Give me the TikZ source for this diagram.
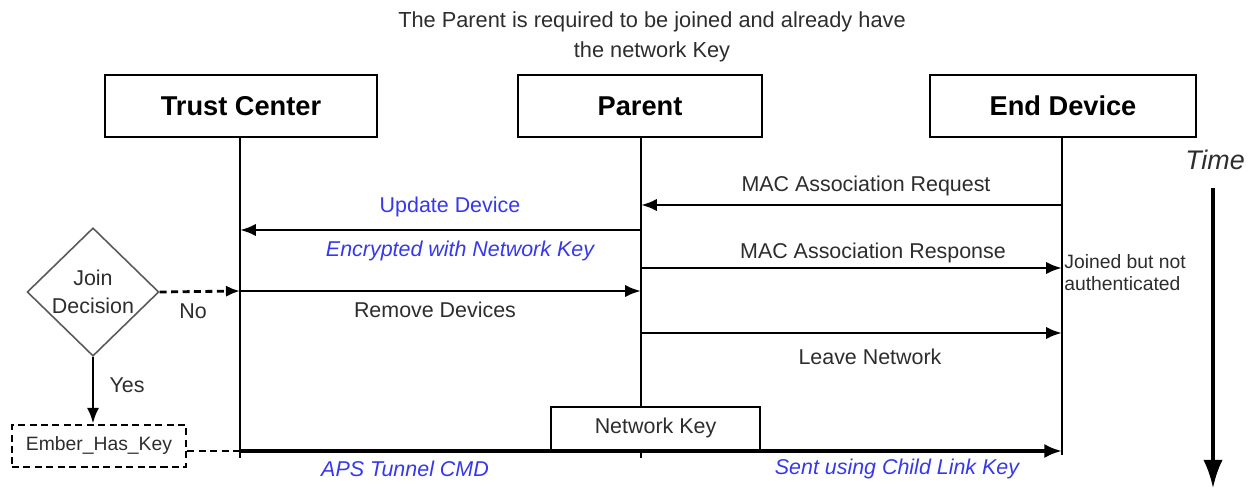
\documentclass[tikz,border=0pt]{standalone}
\usepackage{fontspec}
\setmainfont{Liberation Sans}
\usetikzlibrary{arrows.meta,shapes.geometric}
\definecolor{msgblue}{RGB}{55,55,235}
\definecolor{txtgray}{RGB}{45,45,45}
\tikzset{
  actor/.style={draw,line width=1.4pt,fill=white,minimum width=#1,minimum height=35.3pt,inner sep=0pt,font=\fontsize{15.5}{18}\selectfont\bfseries},
  life/.style={line width=1.4pt},
  msg/.style={line width=1.6pt,-{Latex[length=9pt,width=7pt]}},
  lbl/.style={font=\fontsize{12.2}{14}\selectfont,text=txtgray,inner sep=0pt},
  blbl/.style={font=\fontsize{12.2}{14}\selectfont,text=msgblue,inner sep=0pt},
  ilbl/.style={font=\fontsize{12.2}{14}\selectfont\itshape,text=msgblue,inner sep=0pt},
  dashline/.style={dash pattern=on 4pt off 2.5pt},
}
\begin{document}
\begin{tikzpicture}[x=0.02cm,y=-0.02cm]
\useasboundingbox (0,0) rectangle (1254,489);
% title
\node[lbl,align=center,font=\fontsize{12.4}{17}\selectfont] (title) at (652,37) {The Parent is required to be joined and already have\\the network Key};
% actors
\node[actor=154.8pt] (tc) at (241,106) {Trust Center};
\node[actor=138.8pt] (par) at (640,106) {Parent};
\node[actor=151.4pt] (ed) at (1063,106) {End Device};
% lifeline ends
\coordinate (tcE) at (240,458);
\coordinate (pE) at (641,458);
\coordinate (edE) at (1062,455);
\draw[life] (tc.south -| tcE) -- (tcE);
\draw[life] (par.south -| pE) -- (pE);
\draw[life] (ed.south -| edE) -- (edE);
% message anchor points
\coordinate (ed1) at (1062,205); \coordinate (p1) at (641,205);
\coordinate (p2) at (641,230);  \coordinate (tc2) at (240,230);
\coordinate (p3) at (641,268);  \coordinate (ed3) at (1062,268);
\coordinate (tc4) at (240,291); \coordinate (p4) at (641,291);
\coordinate (p5) at (641,333);  \coordinate (ed5) at (1062,333);
\coordinate (tc6) at (240,451); \coordinate (ed6) at (1062,451);
% messages
\draw[msg] (ed1) -- (p1);
\node[lbl] (l1) at (866,186) {MAC Association Request};
\draw[msg] (p2) -- (tc2);
\node[blbl] (l2) at (450,207) {Update Device};
\node[ilbl] (l2b) at (460,251) {Encrypted with Network Key};
\draw[msg] (p3) -- (ed3);
\node[lbl] (l3) at (873,253) {MAC Association Response};
\node[lbl,align=left,anchor=west,font=\fontsize{11}{12.5}\selectfont] (join) at (1064,273) {Joined but not\\authenticated};
\draw[msg] (tc4) -- (p4);
\node[lbl] (l4) at (435,310) {Remove Devices};
\draw[msg] (p5) -- (ed5);
\node[lbl] (l5) at (870,357) {Leave Network};
% decision
\node[diamond,draw=black!65,line width=0.9pt,aspect=1,inner sep=0pt,minimum width=75pt,minimum height=73pt,align=center,font=\fontsize{12.2}{16}\selectfont,text=txtgray] (dec) at (93,292) {Join\\Decision};
\draw[dashline,line width=1.6pt,-{Latex[length=8pt,width=6.5pt]}] (dec.east) -- (tc4);
\node[lbl] (no) at (193,311) {No};
\node[draw,dashline,line width=1.5pt,minimum width=99pt,minimum height=24pt,inner sep=0pt,font=\fontsize{11}{13}\selectfont,text=txtgray] (ember) at (99,446) {Ember\_Has\_Key};
\draw[line width=1.6pt,-{Latex[length=9pt,width=7pt]}] (dec.south) -- (dec.south |- ember.north);
\node[lbl] (yes) at (127,385) {Yes};
\draw[dashline,line width=1.6pt] (ember.east |- tc6) -- (tc6);
% network key
\draw[line width=2pt,-{Latex[length=10pt,width=8pt]}] (tc6) -- (ed6);
\node[draw,line width=1.2pt,fill=white,minimum width=118.9pt,minimum height=24.5pt,inner sep=0pt,font=\fontsize{12.2}{14}\selectfont,text=txtgray,anchor=south] (nk) at (655.5,451) {Network Key};
\node[ilbl] (l6) at (405,469) {APS Tunnel CMD};
\node[ilbl] (l6b) at (897,469) {Sent using Child Link Key};
% time
\node[font=\fontsize{15.3}{18}\selectfont\itshape,text=txtgray,inner sep=0pt] (time) at (1215,160) {Time};
\coordinate (tS) at (1213,188);
\coordinate (tEnd) at (1213,488);
\draw[line width=1.8pt,-{Latex[length=16pt,width=11pt]}] (tS) -- (tEnd);
\end{tikzpicture}
\end{document}
